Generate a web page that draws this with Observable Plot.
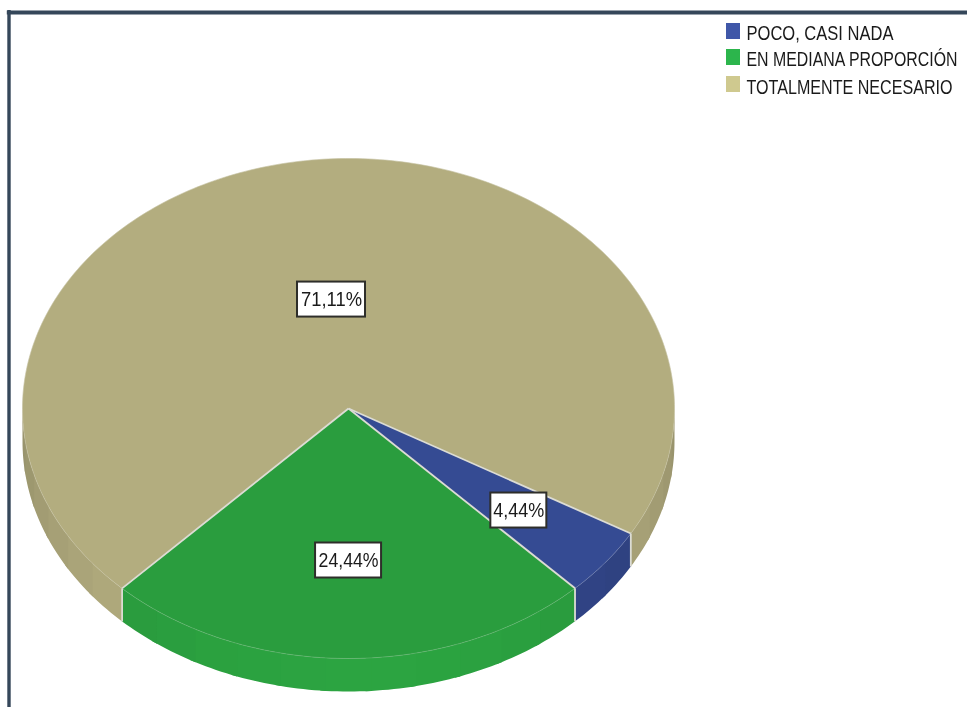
<!DOCTYPE html>
<html>
<head>
<meta charset="utf-8">
<script src="https://cdn.jsdelivr.net/npm/d3@7"></script>
<script src="https://cdn.jsdelivr.net/npm/@observablehq/plot@0.6"></script>
<style>
html,body{margin:0;padding:0;background:#fff}
#chart svg{filter:blur(.55px)}
</style>
</head>
<body>
<div id="chart"></div>
<script>
// Data
const categories = ["POCO, CASI NADA", "EN MEDIANA PROPORCIÓN", "TOTALMENTE NECESARIO"];
const percents = [4.44, 24.44, 71.11];
const percentLabels = ["4,44%", "24,44%", "71,11%"];
const topColors = ["#354b93", "#2a9d3e", "#b3ad7f"];
const legendColors = ["#3f57a8", "#2cb54c", "#cfc98f"];

// Layout of the 3-D pie
const W = 967, H = 707;
const cx = 348, cy = 408, rx = 326, ry = 250, depth = 33;
const startDeg = 30;                // clockwise from east, first slice start
const reach = [0.663, 0.608, 0.44]; // how far along the radius the value box sits
const nudge = [0, 0, 3];
const boxHalf = [28, 33, 34];
const valueWidths = [51, 60, 61];
const legendWidths = [147, 211, 206];
const legendY = [31, 57, 84];
const sideDarken = [0.22, 0, 0];
const font = "'Liberation Sans',Arial,sans-serif";
const rad = d => d * Math.PI / 180;
const px = a => cx + rx * Math.cos(rad(a));
const py = a => cy + ry * Math.sin(rad(a));

// Slices in degrees, from the percents
const total = d3.sum(percents);
let acc = startDeg;
const slices = categories.map((name, i) => {
  const a0 = acc, a1 = acc + percents[i] / total * 360;
  acc = a1;
  return {name, i, a0, a1, mid: (a0 + a1) / 2, color: topColors[i]};
});

function arc(a0, a1, step = 1) {
  const n = Math.max(1, Math.ceil((a1 - a0) / step));
  return d3.range(n + 1).map(k => a0 + (a1 - a0) * k / n);
}

// Top face polygons
const topPoly = slices.flatMap(s => [
  {id: s.i, color: s.color, x: cx, y: cy},
  ...arc(s.a0, s.a1).map(a => ({id: s.i, color: s.color, x: px(a), y: py(a)}))
]);

// Side wall: visible part only, cut in softly shaded bands that overlap
const bandDeg = 8;
const sidePoly = [];
let bandId = 0;
function shade(s, a) {
  const k = 0.6 * (0.8 - Math.sin(rad(a))) + sideDarken[s.i];
  return d3.rgb(s.color).darker(k).formatHex();
}
slices.forEach(s => {
  const ranges = [];
  for (const off of [0, 360]) {
    const lo = Math.max(s.a0, off), hi = Math.min(s.a1, off + 180);
    if (hi > lo) ranges.push([lo, hi]);
  }
  ranges.forEach(([lo, hi]) => {
    const n = Math.max(1, Math.round((hi - lo) / bandDeg));
    d3.range(n).forEach(j => {
      const b0 = lo + (hi - lo) * j / n;
      const b1 = j === n - 1 ? hi : lo + (hi - lo) * (j + 1) / n + 1;
      const c = shade(s, (b0 + b1) / 2);
      const pts = arc(b0, b1);
      pts.forEach(a => sidePoly.push({id: bandId, color: c, x: px(a), y: py(a)}));
      pts.slice().reverse().forEach(a => sidePoly.push({id: bandId, color: c, x: px(a), y: py(a) + depth}));
      bandId++;
    });
  });
});

// Boundaries
const edgeAngles = slices.map(s => s.a0);
const radii = edgeAngles.map(a => ({x1: cx, y1: cy, x2: px(a), y2: py(a)}));
const walls = edgeAngles.map(a => ({x1: px(a), y1: py(a), x2: px(a), y2: py(a) + depth}));
const rim = slices.flatMap(s => arc(s.a0, s.a1).map(a => ({id: s.i, x: px(a), y: py(a)})));

// Value boxes
const boxes = slices.map(s => ({
  text: percentLabels[s.i],
  x: cx + reach[s.i] * rx * Math.cos(rad(s.mid)) + nudge[s.i],
  y: cy + reach[s.i] * ry * Math.sin(rad(s.mid)),
  hw: boxHalf[s.i]
}));

// Legend
const legend = categories.map((name, i) => ({name, color: legendColors[i], y: legendY[i]}));

const plot = Plot.plot({
  width: W, height: H,
  margin: 0,
  x: {domain: [0, W], range: [0, W], axis: null},
  y: {domain: [0, H], range: [0, H], axis: null},
  style: {background: "#fff"},
  marks: [
    // frame
    Plot.ruleY([12], {x1: 6.8, x2: W, stroke: "#35475a", strokeWidth: 4}),
    Plot.ruleX([8.5], {y1: 10, y2: H, stroke: "#35475a", strokeWidth: 3.4}),
    // side wall
    Plot.line(sidePoly, {x: "x", y: "y", z: "id", fill: "color", stroke: "none"}),
    // top
    Plot.line(topPoly, {x: "x", y: "y", z: "id", fill: "color", stroke: "color", strokeWidth: 0.5}),
    // rim highlight
    Plot.line(rim, {x: "x", y: "y", z: "id", stroke: "#e8e8e0", strokeOpacity: 0.2, strokeWidth: 1}),
    // slice boundaries
    Plot.link(radii, {x1: "x1", y1: "y1", x2: "x2", y2: "y2", stroke: "#dcdcd4", strokeWidth: 1.8}),
    Plot.link(walls, {x1: "x1", y1: "y1", x2: "x2", y2: "y2", stroke: "#dcdcd4", strokeWidth: 1.8}),
    // value boxes
    Plot.rect(boxes, {x1: d => d.x - d.hw, x2: d => d.x + d.hw, y1: d => d.y - 17.5, y2: d => d.y + 17.5, fill: "#fff", stroke: "#2e2e2a", strokeWidth: 2}),
    Plot.text(boxes, {x: "x", y: "y", text: "text", fontFamily: font, fontSize: 16, fill: "#1a1a1a", className: "value-label"}),
    // legend
    Plot.rect(legend, {x1: 726, x2: 740, y1: d => d.y - 8, y2: d => d.y + 8, fill: "color"}),
    Plot.text(legend, {x: 746, y: d => d.y + (d.name === categories[2] ? 3 : 2), text: "name", textAnchor: "start", fontFamily: font, fontSize: 16, fill: "#1a1a1a", className: "legend-label"})
  ]
});
// The reference uses a tall condensed face: stretch each label upward and fit it to its measured width
const fit = (cls, widths) => d3.select(plot).selectAll(`g.${cls} text`)
  .attr("textLength", (d, i) => widths[i])
  .attr("lengthAdjust", "spacingAndGlyphs")
  .attr("transform", function() { return (this.getAttribute("transform") || "") + " scale(1,1.25)"; });
fit("value-label", valueWidths);
fit("legend-label", legendWidths);
document.getElementById("chart").append(plot);
</script>
</body>
</html>
